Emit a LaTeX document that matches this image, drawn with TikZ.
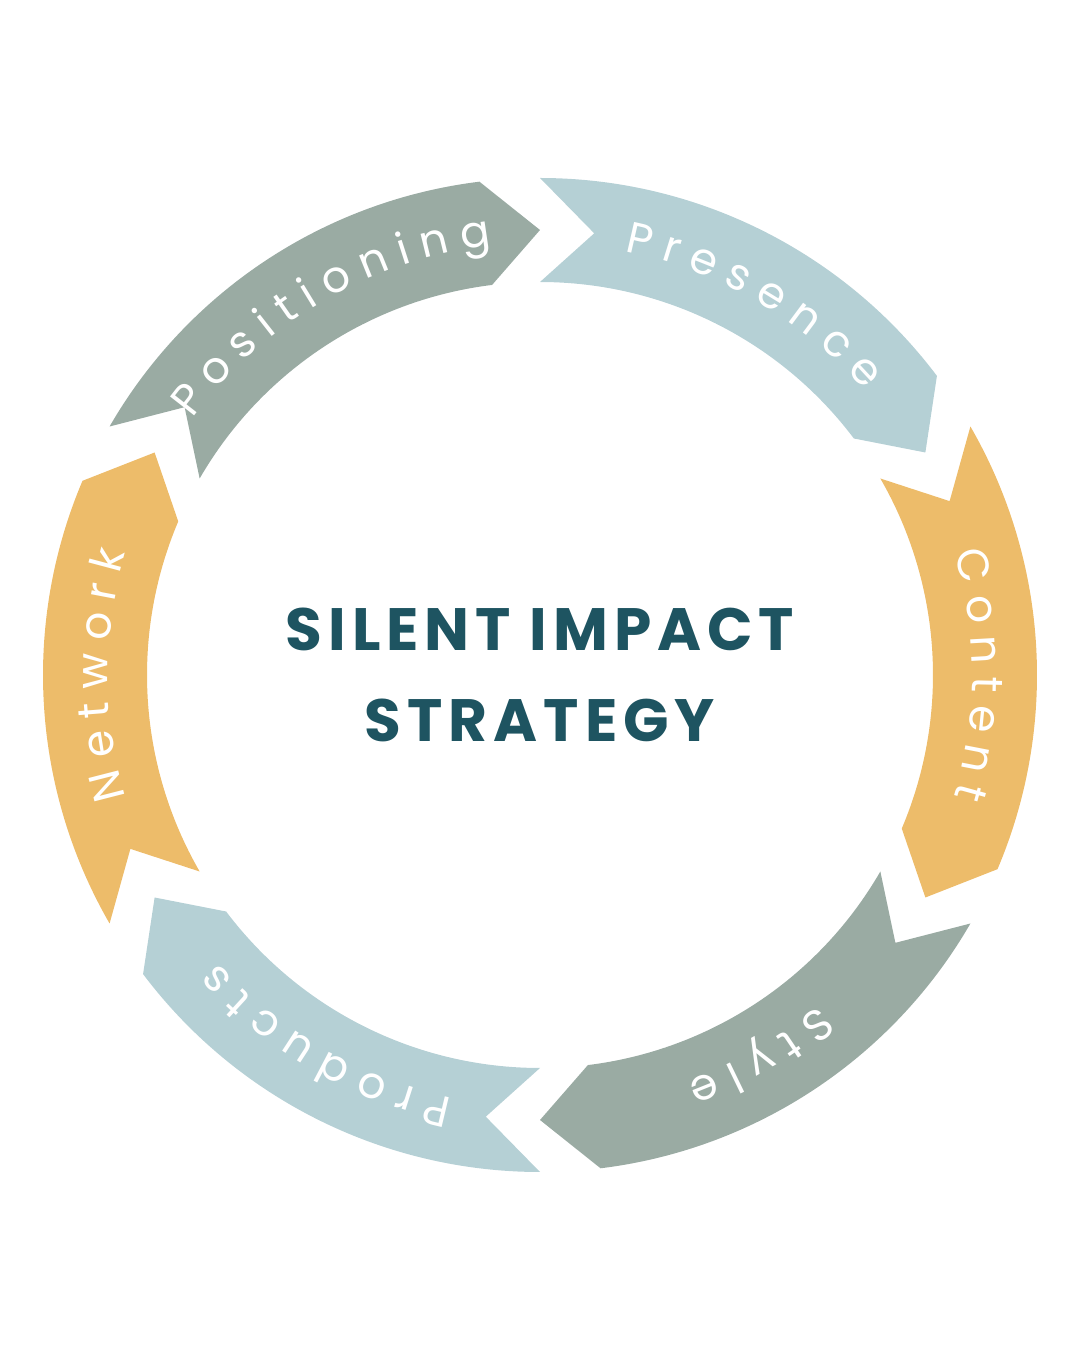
\documentclass[tikz,border=0pt]{standalone}
\usepackage{fontspec}
\setmainfont{Poppins}
\usetikzlibrary{decorations.text}
\definecolor{sage}{HTML}{9AABA3}
\definecolor{mist}{HTML}{B5D0D5}
\definecolor{honey}{HTML}{EDBC6A}
\definecolor{ink}{HTML}{1E5461}
\newcommand{\labelfont}{\fontsize{12.5}{12.5}\selectfont\color{white}}
\tikzset{
    segment/.style={fill=#1, draw=none},
    title/.style={font=\fontsize{17}{26}\selectfont\bfseries\addfontfeature{LetterSpace=10}, text=ink, align=center}
}

\begin{document}
\begin{tikzpicture}
    \useasboundingbox (0,0) rectangle (10.8,13.5);
    \coordinate (c) at (5.4,6.75);

    % ring of arrows, clockwise
    \foreach \a/\col/\lbl in {90/mist/{P r e s e n c e}, 30/honey/{C o n t e n t}, -30/sage/{S t y l e},
                              -90/mist/{P r o d u c t s}, -150/honey/{N e t w o r k}, 150/sage/{P o s i t i o n i n g}} {
        \fill[segment=\col, shift={(c)}] (\a:4.97) arc[start angle=\a, end angle=\a-53, radius=4.97]
            -- (\a-60:4.45) -- (\a-53:3.93) arc[start angle=\a-53, end angle=\a, radius=3.93]
            -- (\a-7:4.45) -- cycle;
        \edef\labeltxt{|\noexpand\labelfont|\lbl}
        \path[shift={(c)}, decorate, decoration={text along path, text/.expand once=\labeltxt, text align=center}]
            (\a-4:4.32) arc[start angle=\a-4, end angle=\a-56, radius=4.32];
    }

    % centre title
    \node[title] (heading) at (c) {SILENT IMPACT\\STRATEGY};
\end{tikzpicture}
\end{document}
